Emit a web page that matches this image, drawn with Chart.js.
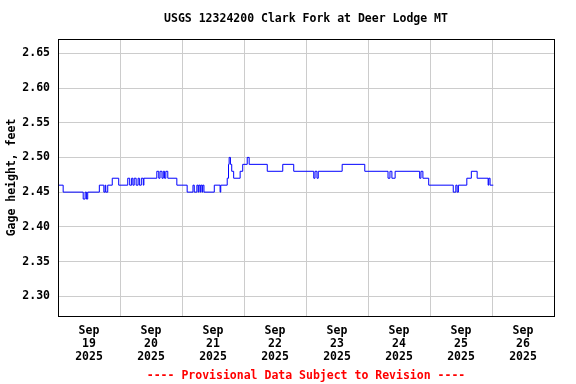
<!DOCTYPE html>
<html>
<head>
<meta charset="utf-8">
<script src="https://cdn.jsdelivr.net/npm/chart.js@4"></script>
<style>
  html, body { margin: 0; padding: 0; background: #fff; }
  #wrap { width: 576px; height: 384px; }
</style>
</head>
<body>
<div id="wrap"><canvas id="c" width="576" height="384"></canvas></div>
<script>
// hours since Sep 19 2025 00:00, and gage height (ft) from that hour on
const hours = [0, 2, 9.75, 10.5, 11, 11.5, 16, 17.75, 18.25, 18.5, 19.25, 21, 23.5,
  27, 27.75, 28.5, 29, 29.5, 30.25, 31, 31.5, 32.25, 33, 33.25, 38.25, 39, 39.5, 40.25,
  40.75, 41.25, 41.75, 42.5, 46, 50, 52.25, 52.75, 53.75, 54.25, 54.5, 55, 55.25, 55.75,
  56, 56.5, 60.5, 62.75, 63, 65.5, 66, 66.25, 66.75, 67.25, 68, 70.5, 71.5, 73.25, 74,
  81, 87, 91.25, 99, 99.5, 100.25, 100.75, 110, 118.75, 127.75, 128.5, 129.25, 130.5,
  140, 140.5, 141.25, 143.5, 153, 154, 154.5, 155, 158.25, 160, 162.25, 166.5, 166.75,
  167.25, 168.5];
const heights = [2.46, 2.45, 2.44, 2.45, 2.44, 2.45, 2.46, 2.45, 2.46, 2.45, 2.46, 2.47, 2.46,
  2.47, 2.46, 2.47, 2.46, 2.47, 2.46, 2.47, 2.46, 2.47, 2.46, 2.47, 2.48, 2.47, 2.48, 2.47,
  2.48, 2.47, 2.48, 2.47, 2.46, 2.45, 2.46, 2.45, 2.46, 2.45, 2.46, 2.45, 2.46, 2.45,
  2.46, 2.45, 2.46, 2.45, 2.46, 2.47, 2.49, 2.50, 2.49, 2.48, 2.47, 2.48, 2.49, 2.50, 2.49,
  2.48, 2.49, 2.48, 2.47, 2.48, 2.47, 2.48, 2.49, 2.48, 2.47, 2.48, 2.47, 2.48,
  2.47, 2.48, 2.47, 2.46, 2.45, 2.46, 2.45, 2.46, 2.47, 2.48, 2.47, 2.46, 2.47,
  2.46, 2.46];
const dayLabels = ['19', '20', '21', '22', '23', '24', '25', '26'];
const yTicks = [2.30, 2.35, 2.40, 2.45, 2.50, 2.55, 2.60, 2.65];

const FONT = { family: "'DejaVu Sans Mono', monospace", size: 11.5, weight: 'bold', lineHeight: 1.13 };

// plot frame (top/right edges have no axis of their own)
const frame = {
  id: 'frame',
  afterDraw(chart) {
    const a = chart.chartArea, ctx = chart.ctx;
    ctx.save();
    ctx.strokeStyle = '#000';
    ctx.lineWidth = 1;
    ctx.strokeRect(Math.round(a.left) + 0.5, Math.round(a.top) + 0.5,
      Math.round(a.right - a.left), Math.round(a.bottom - a.top));
    ctx.restore();
  }
};

new Chart(document.getElementById('c'), {
  type: 'line',
  data: {
    datasets: [{
      data: hours.map((h, i) => ({ x: h, y: heights[i] })),
      borderColor: '#0000ff',
      borderWidth: 1,
      pointRadius: 0,
      stepped: true,
      fill: false
    }]
  },
  options: {
    responsive: false,
    animation: false,
    layout: { padding: { left: 0, right: 22, top: 0, bottom: 0 } },
    plugins: {
      legend: { display: false },
      tooltip: { enabled: false },
      title: {
        display: true, fullSize: false,
        text: 'USGS 12324200 Clark Fork at Deer Lodge MT',
        color: '#000', font: { ...FONT, lineHeight: 1.2 },
        padding: { top: 12.6, bottom: 12.6 }
      },
      subtitle: {
        display: true, fullSize: false, position: 'bottom',
        text: '---- Provisional Data Subject to Revision ----',
        color: '#ff0000', font: { ...FONT, lineHeight: 1.2 },
        padding: { top: 3.8, bottom: 0.8 }
      }
    },
    scales: {
      x: {
        type: 'linear', min: 0, max: 192,
        afterBuildTicks: s => { s.ticks = []; for (let h = 0; h <= 192; h += 12) s.ticks.push({ value: h }); },
        afterFit: s => { s.height = 49.6; },
        grid: {
          drawTicks: false,
          color: c => (c.tick && c.tick.value % 24 === 0 && c.tick.value > 0 && c.tick.value < 192) ? '#cccccc' : 'rgba(0,0,0,0)'
        },
        border: { color: '#000' },
        ticks: {
          autoSkip: false, maxRotation: 0, padding: 9, color: '#000', font: FONT,
          callback: v => (v % 24 === 12) ? ['Sep', dayLabels[(v - 12) / 24], '2025'] : ''
        }
      },
      y: {
        min: 2.2715, max: 2.6706,
        afterBuildTicks: s => { s.ticks = yTicks.map(v => ({ value: v })); },
        afterFit: s => { s.width = 58; },
        grid: { drawTicks: false, color: '#cccccc' },
        border: { color: '#000' },
        ticks: { padding: 8, color: '#000', font: FONT, callback: v => v.toFixed(2) },
        title: {
          display: true, text: 'Gage height, feet', color: '#000',
          font: { ...FONT, lineHeight: 1.2 }, padding: { top: 5, bottom: 0 }
        }
      }
    }
  },
  plugins: [frame]
});
</script>
</body>
</html>
